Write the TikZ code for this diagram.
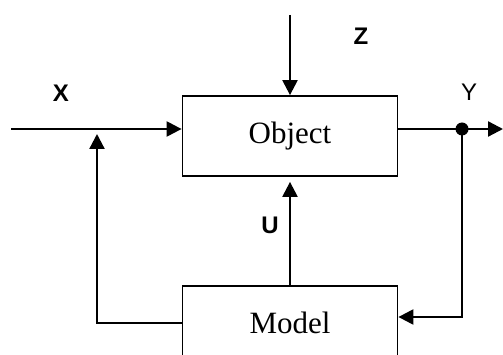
\documentclass[tikz,border=0pt]{standalone}
\usepackage{fontspec}
\setmainfont{Liberation Serif}
\newfontfamily\labelfont{Liberation Sans}
\usetikzlibrary{arrows.meta,calc}
\begin{document}
\begin{tikzpicture}[x=1pt,y=-1pt,
  block/.style={draw,line width=1.8pt,minimum width=215pt,font=\fontsize{31}{33}\selectfont,inner sep=0pt},
  wire/.style={line width=2.3pt},
  flow/.style={wire,-{Triangle[length=15pt,width=15pt]}},
  sig/.style={font=\labelfont\bfseries\fontsize{24}{26}\selectfont},
  sigthin/.style={font=\labelfont\fontsize{24}{26}\selectfont}]
\useasboundingbox (0,0) rectangle (503,355);
% blocks
\node[block,minimum height=80pt] (obj) at (290,136) {Object};
\node[block,minimum height=74pt] (model) at (290,323) {Model};
% free ends of connectors
\coordinate (xin) at (11,129);
\coordinate (zin) at (290,15);
\coordinate (yout) at (503,129);
\coordinate (tap) at (462,129);
\coordinate (join) at (97,134);
% input X and disturbance Z
\draw[flow] (xin) -- (xin -| obj.west);
\draw[flow] (zin) -- (obj.north);
% output Y with branch point
\draw[wire] (obj.east |- tap) -- (tap);
\draw[flow] (tap) -- (yout);
\fill (tap) circle (6.5pt);
% feedback from output into the model
\draw[flow] (tap) |- ([yshift=6pt]model.east);
% control U from the model
\draw[flow,shorten >=5pt] (model.north) -- (obj.south);
% model output back to the input line
\draw[flow] (model.west) -| (join);
% signal labels
\node[sig] (lx) at (61,93) {X};
\node[sig] (lz) at (361,36) {Z};
\node[sigthin] (ly) at (469,92) {Y};
\node[sig] (lu) at (270,225) {U};
\end{tikzpicture}
\end{document}
